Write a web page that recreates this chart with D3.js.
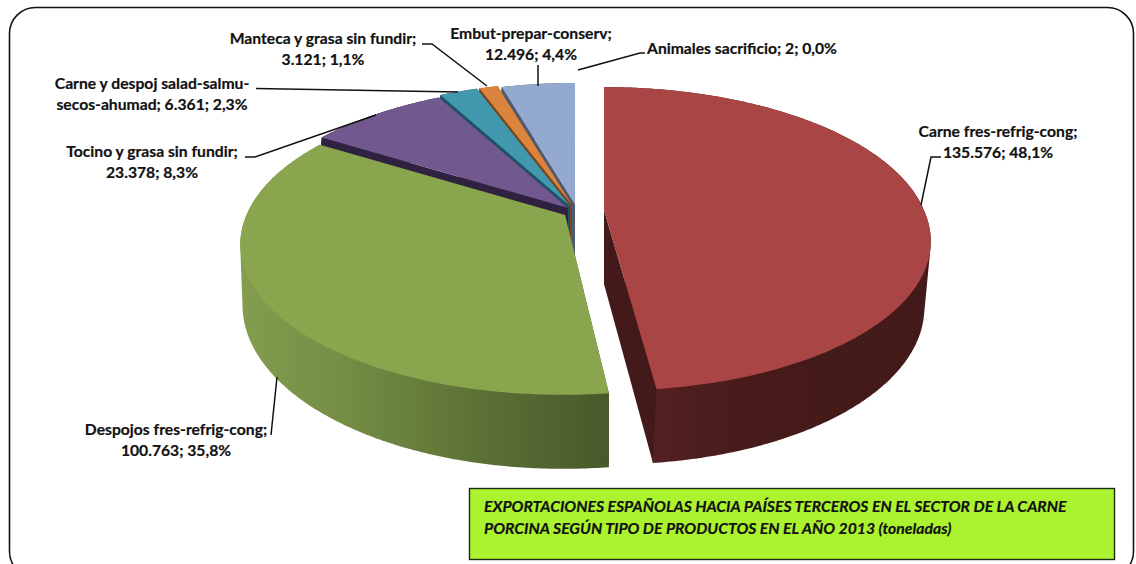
<!DOCTYPE html>
<html lang="es">
<head>
<meta charset="utf-8">
<script src="https://cdn.jsdelivr.net/npm/d3@7/dist/d3.min.js"></script>
<style>
html,body{margin:0;padding:0;background:#fff;overflow:hidden}
svg{display:block}
text{font-family:Lato,"Open Sans",sans-serif;font-weight:700;fill:#111;stroke:#111;stroke-width:.2px}
</style>
</head>
<body>
<svg id="chart" width="1136" height="564"></svg>
<script>
// ---- data ----
const categories = ["Carne fres-refrig-cong","Despojos fres-refrig-cong","Tocino y grasa sin fundir","Carne y despoj salad-salmu-secos-ahumad","Manteca y grasa sin fundir","Embut-prepar-conserv","Animales sacrificio"];
const tons = [135576,100763,23378,6361,3121,12496,2];
const valueLabels = ["135.576","100.763","23.378","6.361","3.121","12.496","2"];
const shareLabels = ["48,1%","35,8%","8,3%","2,3%","1,1%","4,4%","0,0%"];
const titleLines = ["EXPORTACIONES ESPAÑOLAS HACIA PAÍSES TERCEROS EN EL SECTOR DE LA CARNE","PORCINA SEGÚN TIPO DE PRODUCTOS EN EL AÑO 2013 (toneladas)"];

// ---- styling and layout ----
const topColors  = ["#A94544","#89A54E","#71588F","#4198AF","#DB843D","#93A9CF","#93A9CF"];
const wallColors = ["#431A19","#4A5A2A","#2F2140","#1C5463","#7A4518","#4C5A73","#4C5A73"];
// apex of every slice on the top plane, radius factor, wall depth, lean of the near half
const apexX = [604,565,568,570,572,575,576];
const apexY = [210,215,208,206,205,204,204];
const radiusF = [.975,.971,.975,.98,.975,.96,.96];
const wallDepth = [74,56,70,70,70,70,70];
const nearLean = [.035,-.012,0,0,0,0,0];
const topPlane = {sx:328,sy:150,k:.19};
const basePlane = {sx:325,sy:161,k:.13};
const greenBase = {sx:325,sy:163,k:.2};
const basePlanes = [basePlane,greenBase,basePlane,basePlane,basePlane,basePlane,basePlane];
const drawOrder = [6,5,4,3,2,1,0];

// label lines: [text, centre x, baseline y]
const labelLines = [
  [[`${categories[0]};`,998,137],[`${valueLabels[0]}; ${shareLabels[0]}`,998,158]],
  [[`${categories[1]};`,176,435],[`${valueLabels[1]}; ${shareLabels[1]}`,176,456]],
  [[`${categories[2]};`,152,157],[`${valueLabels[2]}; ${shareLabels[2]}`,152,178]],
  [["Carne y despoj salad-salmu-",152,89],[`secos-ahumad; ${valueLabels[3]}; ${shareLabels[3]}`,152,110]],
  [[`${categories[4]};`,323,44],[`${valueLabels[4]}; ${shareLabels[4]}`,323,65]],
  [[`${categories[5]};`,531,39],[`${valueLabels[5]}; ${shareLabels[5]}`,531,60]],
  [[`${categories[6]}; ${valueLabels[6]}; ${shareLabels[6]}`,742,54]]
];
const leaders = [
  [[921,205],[931,157],[941,157]],
  [[277,377],[271,435]],
  [[376,115],[255,157],[245,157]],
  [[458,92],[256,88.5]],
  [[487,86],[432,44],[422,44]],
  [[538,86],[538,65]],
  [[578,70],[640,53],[645,53]]
];

const svg = d3.select("#chart");
const line = d3.line();
const defs = svg.append("defs");

// rounded outer frame
svg.append("rect").attr("x",9.5).attr("y",7.5).attr("width",1124).attr("height",570).attr("rx",26)
   .attr("fill","#fff").attr("stroke","#111").attr("stroke-width",1.6);

const slices = d3.pie().value(d=>d).sort(null)(tons);

function project(i,a,r,plane){
  const x=r*Math.sin(a), y=-r*Math.cos(a), w=1-plane.k*y, f=radiusF[i];
  const py=f*plane.sy*y/w;
  const px=f*plane.sx*x/w+nearLean[i]*Math.max(0,py);
  return [apexX[i]+px, apexY[i]+(plane===topPlane?0:wallDepth[i])+py];
}
function arcPoints(i,a0,a1,plane){
  const n=Math.max(2,Math.ceil(Math.abs(a1-a0)/0.01));
  return d3.range(n+1).map(j=>project(i,a0+(a1-a0)*j/n,1,plane));
}

// gradients for the two large outer walls
function wallGradient(id,x1,x2,stops){
  const g=defs.append("linearGradient").attr("id",id).attr("gradientUnits","userSpaceOnUse")
    .attr("x1",x1).attr("x2",x2).attr("y1",0).attr("y2",0);
  stops.forEach(s=>g.append("stop").attr("offset",s[0]).attr("stop-color",s[1]));
}
wallGradient("wall0",656,930,[[0,"#532021"],[.35,"#461B1A"],[1,"#431A19"]]);
wallGradient("wall1",242,610,[[0,"#829D4E"],[.3,"#728C44"],[.6,"#5F7437"],[1,"#48582A"]]);

const pieG = svg.append("g");
drawOrder.forEach(i=>{
  const s=slices[i], g=pieG.append("g"), base=basePlanes[i];
  const cornerT=a=>project(i,a,0,topPlane), edgeT=a=>project(i,a,1,topPlane);
  const cornerB=a=>project(i,a,0,base), edgeB=a=>project(i,a,1,base);
  const wallFill=wallColors[i];
  // outer wall: the silhouette of the top and bottom rims
  const up=arcPoints(i,s.startAngle,s.endAngle,topPlane);
  const dn=arcPoints(i,s.startAngle,s.endAngle,base);
  const hull=d3.polygonHull(up.concat(dn));
  if(hull) g.append("path").attr("fill",i<2?`url(#wall${i})`:wallFill).attr("d",line(hull)+"Z");
  // cut faces (the large slices' near cut is hidden by the outer-wall shading order)
  [s.startAngle,s.endAngle].forEach(a=>{
    g.append("path").attr("fill",wallFill)
     .attr("d",line([cornerT(a),edgeT(a),edgeB(a),cornerB(a)])+"Z");
  });
  // top face
  g.append("path").attr("fill",topColors[i]).attr("d",line([cornerT(s.startAngle)].concat(up))+"Z");
});

// leaders
svg.append("g").selectAll("path").data(leaders).join("path")
   .attr("d",d=>line(d)).attr("fill","none").attr("stroke","#111").attr("stroke-width",1.5);

// labels
const lab=svg.append("g").attr("font-size",15.7).attr("text-anchor","middle");
labelLines.flat().forEach(l=>lab.append("text").attr("x",l[1]).attr("y",l[2]).text(l[0]));

// title box
svg.append("rect").attr("x",469.5).attr("y",488.5).attr("width",645).attr("height",71)
   .attr("fill","#ABF22F").attr("stroke","#1c2a10").attr("stroke-width",1.4);
svg.append("g").selectAll("text").data(titleLines).join("text")
   .attr("x",484).attr("y",(d,i)=>512+i*22).attr("font-size",15.75).attr("font-style","italic").text(d=>d);
</script>
</body>
</html>
